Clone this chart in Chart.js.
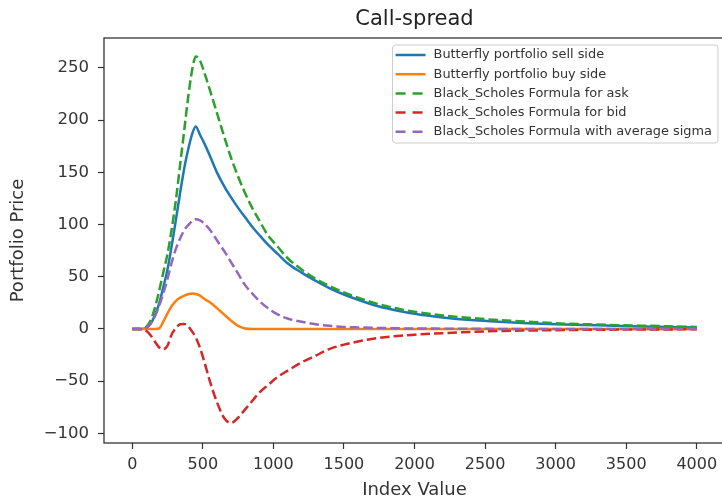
<!DOCTYPE html>
<html>
<head>
<meta charset="utf-8">
<script src="https://cdn.jsdelivr.net/npm/chart.js@4"></script>
<style>
  html, body { margin: 0; padding: 0; background: #fff; overflow: hidden; }
  canvas { display: block; }
</style>
</head>
<body>
<canvas id="chart" width="730" height="499"></canvas>
<script>
// index values (x) shared by every series
const indexValues = [0, 50, 80, 100, 130, 160, 190, 220, 250, 280, 310, 340, 370, 400, 430, 450, 480, 510, 550, 600,
  650, 700, 750, 800, 850, 900, 960, 1030, 1100, 1200, 1300, 1400, 1500, 1600, 1750, 1900, 2000, 2200, 2400, 2600,
  2800, 3000, 3300, 3600, 3800, 4000];

const sellSide = [0, 0, 0.3, 1, 5, 13, 24, 40, 57, 80, 105, 131, 155, 174, 189, 194, 186, 178, 166, 150,
  137, 126, 116, 107, 98, 90, 81, 72, 63, 54, 46, 39, 33, 28, 21.5, 17, 14.5, 11, 8.5, 7,
  5.5, 4.5, 3.5, 2.5, 2, 1.5];

const buySide = [0, 0, 0, 0, 0, 0, 0.5, 7, 15, 22, 27, 30, 32, 33.5, 34, 33.5, 32, 29, 25.5, 20,
  14, 8, 3, 0.5, 0, 0, 0, 0, 0, 0, 0, 0, 0, 0, 0, 0, 0, 0, 0, 0,
  0, 0, 0, 0, 0, 0];

const bsAsk = [0, 0, 0.5, 2, 8, 20, 36, 54, 72, 96, 124, 158, 192, 226, 252, 261, 257, 246, 229, 207,
  185, 164, 146, 130, 116, 104, 90, 79, 68, 57, 48, 41, 35, 30, 23.5, 19, 16.5, 13, 10.5, 8.5,
  7, 5.5, 4.2, 3.2, 2.6, 2];

const bsBid = [0, 0, -1, -2, -6, -12, -17.5, -19.5, -16, -5, 1, 4.5, 4.8, 2, -3.5, -8, -18, -31, -50, -70,
  -85, -90, -85, -77, -69, -61, -54, -46, -40, -32, -25.5, -19, -15, -12, -8.5, -6.5, -5.5, -4, -2.8, -2,
  -1.5, -1.1, -0.7, -0.5, -0.4, -0.3];

const bsAvgSigma = [0, 0, 0.3, 1.2, 5, 12, 22, 34, 48, 64, 77, 87, 95, 100, 104, 105, 104, 101, 95, 85,
  75, 64, 53, 42, 34, 27, 20, 14, 10, 7, 4.5, 3, 2, 1.5, 1, 0.6, 0.5, 0.3, 0.2, 0.1,
  0.1, 0, 0, 0, 0, 0];

const seriesNames = [
  'Butterfly portfolio sell side',
  'Butterfly portfolio buy side',
  'Black_Scholes Formula for ask',
  'Black_Scholes Formula for bid',
  'Black_Scholes Formula with average sigma'
];

const xTicks = [0, 500, 1000, 1500, 2000, 2500, 3000, 3500, 4000];
const yTicks = [-100, -50, 0, 50, 100, 150, 200, 250];

const toPoints = ys => indexValues.map((x, i) => ({ x: x, y: ys[i] }));
const FONT = 'DejaVu Sans';
const DASH = [9.5, 4];

function series(label, ys, color, dashed, order) {
  return {
    label: label,
    data: toPoints(ys),
    borderColor: color,
    backgroundColor: color,
    borderWidth: 2.5,
    borderDash: dashed ? DASH : [],
    pointRadius: 0,
    fill: false,
    cubicInterpolationMode: 'monotone',
    order: order
  };
}

// frame around plot + matplotlib style legend box
const framePlugin = {
  id: 'frame',
  afterDraw(chart) {
    const { ctx, chartArea: a } = chart;
    ctx.save();
    ctx.strokeStyle = '#333';
    ctx.lineWidth = 1.3;
    ctx.strokeRect(a.left, a.top, a.right - a.left, a.bottom - a.top);

    ctx.font = '12.9px "' + FONT + '"';
    const sets = chart.data.datasets;
    const maxW = Math.max(...sets.map(d => ctx.measureText(d.label).width));
    const rowH = 19.2;
    const w = 3 + 30 + 8 + maxW + 6;
    const h = rowH * sets.length + 2;
    const right = a.right - 7;
    const left = right - w;
    const top = a.top + 7;
    ctx.beginPath();
    ctx.roundRect(left, top, w, h, 3);
    ctx.fillStyle = 'rgba(255,255,255,0.8)';
    ctx.fill();
    ctx.strokeStyle = '#cccccc';
    ctx.lineWidth = 1;
    ctx.stroke();

    sets.forEach((d, i) => {
      const y = top + 10 + i * rowH;
      ctx.beginPath();
      ctx.setLineDash(d.borderDash.length ? [10, 7] : []);
      ctx.strokeStyle = d.borderColor;
      ctx.lineWidth = 2.5;
      ctx.moveTo(left + 3, y);
      ctx.lineTo(left + 33, y);
      ctx.stroke();
      ctx.setLineDash([]);
      ctx.fillStyle = '#333';
      ctx.textBaseline = 'middle';
      ctx.textAlign = 'left';
      ctx.fillText(d.label, left + 41, y);
    });
    ctx.restore();
  }
};

new Chart(document.getElementById('chart'), {
  type: 'line',
  data: {
    datasets: [
      series(seriesNames[0], sellSide, '#1f77b4', false, 5),
      series(seriesNames[1], buySide, '#ff7f0e', false, 4),
      series(seriesNames[2], bsAsk, '#2ca02c', true, 3),
      series(seriesNames[3], bsBid, '#d62728', true, 2),
      series(seriesNames[4], bsAvgSigma, '#9467bd', true, 1)
    ]
  },
  options: {
    responsive: false,
    animation: false,
    devicePixelRatio: 1,
    layout: { padding: { left: 0, right: 5, top: 0, bottom: 0 } },
    plugins: {
      legend: { display: false },
      tooltip: { enabled: false },
      title: {
        display: true,
        text: 'Call-spread',
        fullSize: false,
        color: '#222',
        font: { family: FONT, size: 21, weight: 'normal', lineHeight: 1.2 },
        padding: { top: 7, bottom: 5.8 }
      }
    },
    scales: {
      x: {
        type: 'linear',
        min: -200,
        max: 4200,
        afterBuildTicks: s => { s.ticks = xTicks.map(v => ({ value: v })); },
        afterFit: s => { s.height = 56; },
        border: { display: false },
        grid: { drawOnChartArea: false, tickLength: 6, tickColor: '#333', tickWidth: 1.2 },
        ticks: {
          padding: 6, color: '#333', maxRotation: 0, autoSkip: false,
          font: { family: FONT, size: 16 },
          callback: v => String(v)
        },
        title: {
          display: true, text: 'Index Value', color: '#333',
          font: { family: FONT, size: 18, lineHeight: 1 },
          padding: { top: 0, bottom: 0 }
        }
      },
      y: {
        type: 'linear',
        min: -109.2,
        max: 278.7,
        afterBuildTicks: s => { s.ticks = yTicks.map(v => ({ value: v })); },
        afterFit: s => { s.width = 104; },
        border: { display: false },
        grid: { drawOnChartArea: false, tickLength: 6, tickColor: '#333', tickWidth: 1.2 },
        ticks: {
          padding: 9, color: '#333', autoSkip: false,
          font: { family: FONT, size: 16.5 },
          callback: v => (v < 0 ? '\u2212' + Math.abs(v) : String(v))
        },
        title: {
          display: true, text: 'Portfolio Price', color: '#333',
          font: { family: FONT, size: 18, lineHeight: 1.2 },
          padding: { top: 7.2, bottom: 0 }
        }
      }
    }
  },
  plugins: [framePlugin]
});
</script>
</body>
</html>
